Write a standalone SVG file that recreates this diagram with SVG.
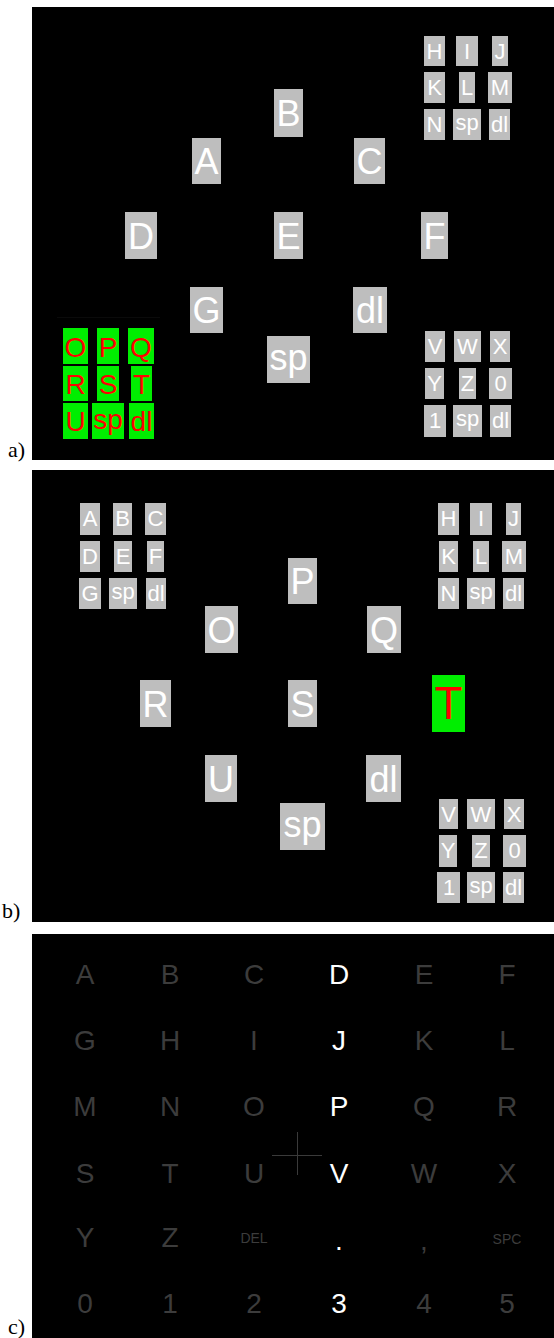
<svg xmlns="http://www.w3.org/2000/svg" width="554" height="1338" viewBox="0 0 554 1338">
<style>
.bg{fill:#000}
.k{fill:#bebebe}
.g{fill:#00ee00}
.t{font-family:"Liberation Sans",Arial,sans-serif;text-anchor:middle;fill:#fff}
.L{font-size:36px}
.S{font-size:22px}
.G{font-size:28px;fill:#f00}
.TT{font-size:46px;fill:#f00}
.lab{font-family:"Liberation Serif","Times New Roman",serif;font-size:22px;fill:#000}
.c{font-family:"Liberation Sans",Arial,sans-serif;text-anchor:middle;font-size:28px;fill:#3c3c3c}
.cs{font-size:14px}
.w{fill:#fff}
</style>
<rect width="554" height="1338" fill="#fff"/>
<!-- Panel a -->
<g id="panel-a">
<rect class="bg" x="32" y="7" width="522" height="453"/>
<g id="a-A"><rect class="k" x="192" y="138" width="29" height="46"/><text class="t L" x="206.5" y="174">A</text></g>
<g id="a-B"><rect class="k" x="274" y="89" width="29" height="48"/><text class="t L" x="288.5" y="126">B</text></g>
<g id="a-C"><rect class="k" x="354" y="138" width="31" height="46"/><text class="t L" x="369.5" y="174">C</text></g>
<g id="a-D"><rect class="k" x="125" y="212" width="32" height="47"/><text class="t L" x="141" y="249">D</text></g>
<g id="a-E"><rect class="k" x="274" y="212" width="29" height="47"/><text class="t L" x="288.5" y="249">E</text></g>
<g id="a-F"><rect class="k" x="421" y="212" width="27" height="47"/><text class="t L" x="434.5" y="249">F</text></g>
<g id="a-G"><rect class="k" x="190" y="287" width="33" height="46"/><text class="t L" x="206.5" y="323">G</text></g>
<g id="a-dl"><rect class="k" x="353" y="287" width="34" height="46"/><text class="t L" x="370" y="323">dl</text></g>
<g id="a-sp"><rect class="k" x="267" y="336" width="43" height="47"/><text class="t L" x="288.5" y="370">sp</text></g>
<g id="a-grid-HN">
<rect class="k" x="424" y="36" width="21" height="30"/><text class="t S" x="434.5" y="59">H</text>
<rect class="k" x="456" y="36" width="22" height="30"/><text class="t S" x="467" y="59">I</text>
<rect class="k" x="492" y="36" width="16" height="30"/><text class="t S" x="500" y="59">J</text>
<rect class="k" x="424" y="72" width="21" height="31"/><text class="t S" x="434.5" y="95">K</text>
<rect class="k" x="459" y="72" width="16" height="31"/><text class="t S" x="467" y="95">L</text>
<rect class="k" x="488" y="72" width="24" height="31"/><text class="t S" x="500" y="95">M</text>
<rect class="k" x="424" y="109" width="21" height="31"/><text class="t S" x="434.5" y="132">N</text>
<rect class="k" x="453" y="109" width="28" height="31"/><text class="t S" x="467" y="130">sp</text>
<rect class="k" x="489" y="109" width="21" height="31"/><text class="t S" x="499.5" y="132">dl</text>
</g>
<g id="a-grid-V1">
<rect class="k" x="425" y="331" width="20" height="31"/><text class="t S" x="435" y="354">V</text>
<rect class="k" x="454" y="331" width="27" height="31"/><text class="t S" x="467.5" y="354">W</text>
<rect class="k" x="490" y="331" width="20" height="31"/><text class="t S" x="500" y="354">X</text>
<rect class="k" x="425" y="368" width="19" height="31"/><text class="t S" x="434.5" y="391">Y</text>
<rect class="k" x="459" y="368" width="17" height="31"/><text class="t S" x="467.5" y="391">Z</text>
<rect class="k" x="489" y="368" width="23" height="31"/><text class="t S" x="500.5" y="391">0</text>
<rect class="k" x="424" y="405" width="22" height="32"/><text class="t S" x="435" y="428">1</text>
<rect class="k" x="453" y="405" width="29" height="32"/><text class="t S" x="467.5" y="426">sp</text>
<rect class="k" x="490" y="405" width="21" height="32"/><text class="t S" x="500.5" y="428">dl</text>
</g>
<g id="a-grid-OU">
<rect x="57" y="317" width="103" height="1" fill="#0a0a0a"/>
<rect class="g" x="63" y="328" width="25" height="36"/><text class="t G" x="75.5" y="357">O</text>
<rect class="g" x="97" y="328" width="22" height="36"/><text class="t G" x="108" y="357">P</text>
<rect class="g" x="128" y="328" width="26" height="36"/><text class="t G" x="141" y="357">Q</text>
<rect class="g" x="63" y="366" width="25" height="35"/><text class="t G" x="75.5" y="394">R</text>
<rect class="g" x="97" y="366" width="22" height="35"/><text class="t G" x="108" y="394">S</text>
<rect class="g" x="131" y="366" width="21" height="35"/><text class="t G" x="141.5" y="394">T</text>
<rect class="g" x="63" y="403" width="25" height="36"/><text class="t G" x="75.5" y="431">U</text>
<rect class="g" x="92" y="403" width="32" height="36"/><text class="t G" x="108" y="429">sp</text>
<rect class="g" x="129" y="403" width="25" height="36"/><text class="t G" x="141.5" y="431">dl</text>
</g>
</g>
<text class="lab" x="8" y="457">a)</text>
<!-- Panel b -->
<g id="panel-b">
<rect class="bg" x="32" y="470" width="522" height="452"/>
<g id="b-grid-AG">
<rect class="k" x="80" y="503" width="20" height="32"/><text class="t S" x="90" y="526">A</text>
<rect class="k" x="113" y="503" width="19" height="32"/><text class="t S" x="122.5" y="526">B</text>
<rect class="k" x="145" y="503" width="21" height="32"/><text class="t S" x="155.5" y="526">C</text>
<rect class="k" x="80" y="541" width="20" height="31"/><text class="t S" x="90" y="564">D</text>
<rect class="k" x="114" y="541" width="18" height="31"/><text class="t S" x="123" y="564">E</text>
<rect class="k" x="147" y="541" width="17" height="31"/><text class="t S" x="155.5" y="564">F</text>
<rect class="k" x="79" y="578" width="22" height="31"/><text class="t S" x="90" y="601">G</text>
<rect class="k" x="109" y="578" width="28" height="31"/><text class="t S" x="123" y="599">sp</text>
<rect class="k" x="146" y="578" width="20" height="31"/><text class="t S" x="156" y="601">dl</text>
</g>
<g id="b-grid-HN">
<rect class="k" x="438" y="503" width="21" height="32"/><text class="t S" x="448.5" y="526">H</text>
<rect class="k" x="470" y="503" width="22" height="32"/><text class="t S" x="481" y="526">I</text>
<rect class="k" x="506" y="503" width="15" height="32"/><text class="t S" x="513.5" y="526">J</text>
<rect class="k" x="439" y="541" width="19" height="31"/><text class="t S" x="448.5" y="564">K</text>
<rect class="k" x="473" y="541" width="16" height="31"/><text class="t S" x="481" y="564">L</text>
<rect class="k" x="502" y="541" width="24" height="31"/><text class="t S" x="514" y="564">M</text>
<rect class="k" x="438" y="578" width="21" height="31"/><text class="t S" x="448.5" y="601">N</text>
<rect class="k" x="467" y="578" width="28" height="31"/><text class="t S" x="481" y="599">sp</text>
<rect class="k" x="503" y="578" width="21" height="31"/><text class="t S" x="513.5" y="601">dl</text>
</g>
<g id="b-P"><rect class="k" x="288" y="558" width="29" height="46"/><text class="t L" x="302.5" y="594">P</text></g>
<g id="b-O"><rect class="k" x="205" y="606" width="33" height="47"/><text class="t L" x="221.5" y="643">O</text></g>
<g id="b-Q"><rect class="k" x="367" y="606" width="34" height="47"/><text class="t L" x="384" y="643">Q</text></g>
<g id="b-R"><rect class="k" x="140" y="680" width="31" height="47"/><text class="t L" x="155.5" y="717">R</text></g>
<g id="b-S"><rect class="k" x="288" y="680" width="29" height="47"/><text class="t L" x="302.5" y="717">S</text></g>
<g id="b-T"><rect class="g" x="432" y="675" width="33" height="57"/><text class="t TT" x="448.5" y="719">T</text></g>
<g id="b-U"><rect class="k" x="205" y="755" width="32" height="47"/><text class="t L" x="221" y="792">U</text></g>
<g id="b-dl"><rect class="k" x="366" y="755" width="35" height="47"/><text class="t L" x="383.5" y="792">dl</text></g>
<g id="b-sp"><rect class="k" x="280" y="803" width="45" height="47"/><text class="t L" x="302.5" y="837">sp</text></g>
<g id="b-grid-V1">
<rect class="k" x="439" y="799" width="19" height="30"/><text class="t S" x="448.5" y="822">V</text>
<rect class="k" x="467" y="799" width="28" height="30"/><text class="t S" x="481" y="822">W</text>
<rect class="k" x="504" y="799" width="20" height="30"/><text class="t S" x="514" y="822">X</text>
<rect class="k" x="439" y="835" width="18" height="32"/><text class="t S" x="448" y="858">Y</text>
<rect class="k" x="472" y="835" width="18" height="32"/><text class="t S" x="481" y="858">Z</text>
<rect class="k" x="503" y="835" width="23" height="32"/><text class="t S" x="514.5" y="858">0</text>
<rect class="k" x="437" y="872" width="23" height="31"/><text class="t S" x="449" y="895">1</text>
<rect class="k" x="467" y="872" width="28" height="31"/><text class="t S" x="481" y="893">sp</text>
<rect class="k" x="503" y="872" width="21" height="31"/><text class="t S" x="513.5" y="895">dl</text>
</g>
</g>
<text class="lab" x="2" y="918">b)</text>
<!-- Panel c -->
<g id="panel-c">
<rect class="bg" x="32" y="934" width="522" height="404"/>
<g id="c-crosshair" stroke="#3a3a3a" stroke-width="1">
<line x1="297.5" y1="1132" x2="297.5" y2="1175"/>
<line x1="272" y1="1155.5" x2="322" y2="1155.5"/>
</g>
<g id="c-row1"><text class="c" x="85" y="984">A</text><text class="c" x="170" y="984">B</text><text class="c" x="254" y="984">C</text><text class="c w" x="339" y="984">D</text><text class="c" x="424" y="984">E</text><text class="c" x="507" y="984">F</text></g>
<g id="c-row2"><text class="c" x="85" y="1050">G</text><text class="c" x="170" y="1050">H</text><text class="c" x="254" y="1050">I</text><text class="c w" x="339" y="1050">J</text><text class="c" x="424" y="1050">K</text><text class="c" x="507" y="1050">L</text></g>
<g id="c-row3"><text class="c" x="85" y="1116">M</text><text class="c" x="170" y="1116">N</text><text class="c" x="254" y="1116">O</text><text class="c w" x="339" y="1116">P</text><text class="c" x="424" y="1116">Q</text><text class="c" x="507" y="1116">R</text></g>
<g id="c-row4"><text class="c" x="85" y="1183">S</text><text class="c" x="170" y="1183">T</text><text class="c" x="254" y="1183">U</text><text class="c w" x="339" y="1183">V</text><text class="c" x="424" y="1183">W</text><text class="c" x="507" y="1183">X</text></g>
<g id="c-row5"><text class="c" x="85" y="1247">Y</text><text class="c" x="170" y="1247">Z</text><text class="c cs" x="254" y="1243">DEL</text><text class="c w" x="339" y="1250">.</text><text class="c" x="424" y="1250">,</text><text class="c cs" x="507" y="1244">SPC</text></g>
<g id="c-row6"><text class="c" x="85" y="1313">0</text><text class="c" x="170" y="1313">1</text><text class="c" x="254" y="1313">2</text><text class="c w" x="339" y="1313">3</text><text class="c" x="424" y="1313">4</text><text class="c" x="507" y="1313">5</text></g>
</g>
<text class="lab" x="8" y="1334">c)</text>
</svg>
